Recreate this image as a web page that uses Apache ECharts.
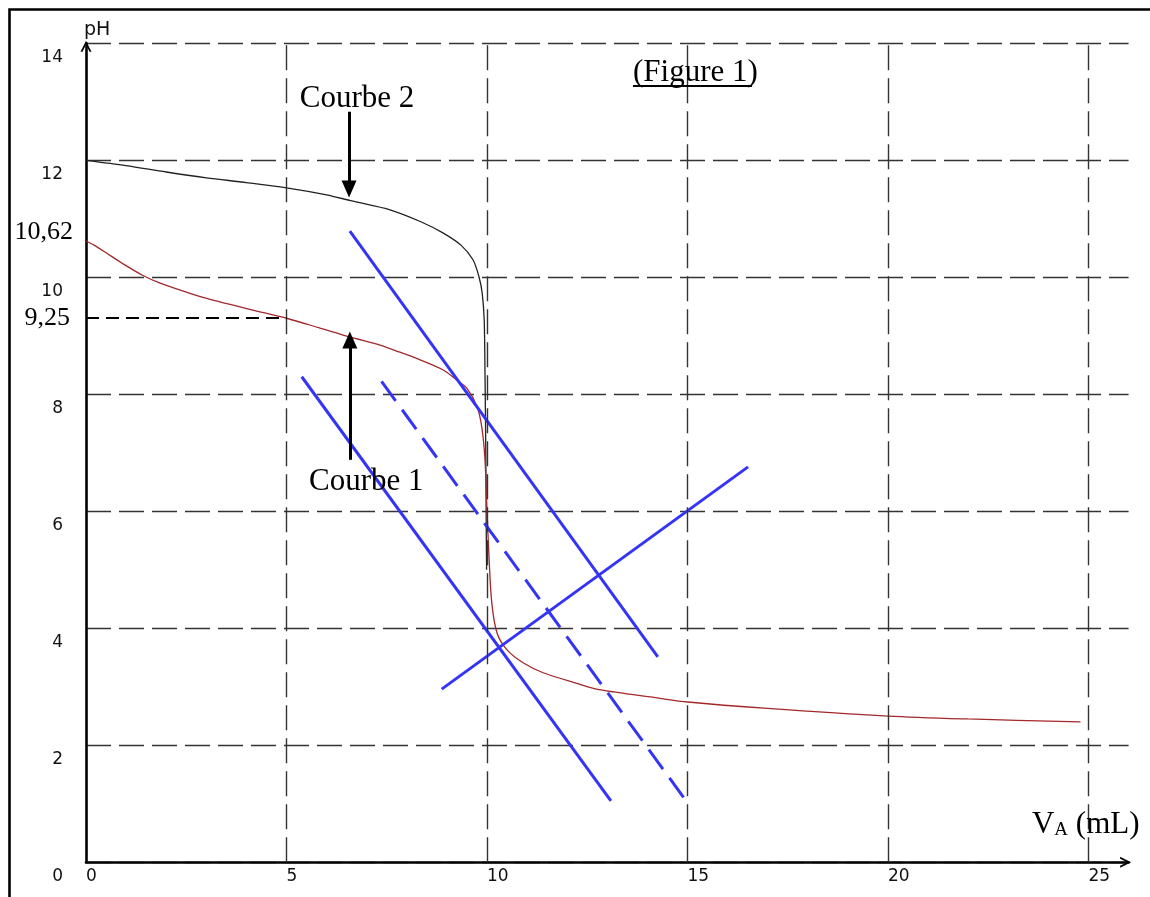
<!DOCTYPE html>
<html>
<head>
<meta charset="utf-8">
<script src="https://cdn.jsdelivr.net/npm/echarts@6/dist/echarts.min.js"></script>
<style>
html,body{margin:0;padding:0;background:#fff;}
#chart{width:1150px;height:897px;}
</style>
</head>
<body>
<div id="chart"></div>
<script>
// ---- data ----
const xTicks = [0, 5, 10, 15, 20, 25];
const yTicks = [0, 2, 4, 6, 8, 10, 12, 14];
const xGridLines = [5, 10, 15, 20, 25];

// Courbe 2 (black)
const curve2X = [0, 1, 2, 3, 4, 5, 6, 6.6, 7.6, 8.35, 8.9, 9.35, 9.65, 9.8, 9.88, 9.93, 9.95, 9.97, 9.98, 9.99];
const curve2Y = [12.0, 11.91, 11.8, 11.7, 11.62, 11.53, 11.41, 11.31, 11.15, 10.95, 10.76, 10.55, 10.3, 10.01, 9.73, 9.27, 8.36, 7.0, 5.8, 5.0];

// Courbe 1 (red)
const curve1X = [0, 0.2, 0.5, 0.9, 1.42, 1.85, 2.67, 3.34, 4.16, 5.0, 5.8, 6.58, 7.33, 7.83, 8.15, 8.9, 9.25, 9.5, 9.75, 9.87, 9.95, 10.0, 10.05, 10.12, 10.25, 10.5, 10.9, 11.4, 12.24, 12.8, 14.24, 15, 17, 20, 22, 24.8];
const curve1Y = [10.62, 10.55, 10.42, 10.24, 10.03, 9.9, 9.71, 9.58, 9.44, 9.3, 9.14, 8.98, 8.84, 8.72, 8.64, 8.42, 8.24, 8.1, 7.79, 7.44, 6.88, 6.02, 5.22, 4.43, 3.92, 3.63, 3.41, 3.24, 3.06, 2.95, 2.81, 2.74, 2.63, 2.5, 2.45, 2.4];

// blue construction lines (endpoints)
const tangentUpper = [[6.58, 10.79], [14.26, 3.51]];
const tangentLower = [[5.38, 8.30], [13.09, 1.05]];
const parallelMid = [[7.37, 8.22], [15.06, 0.96]];
const perpendicular = [[8.87, 2.96], [16.51, 6.76]];

// annotation values
const pHstart = 10.62;
const pHhalf = 9.25;
const halfLineY = 9.3;
const halfLineX = [0, 5];
const arrowCourbe2 = [[6.56, 12.83], [6.56, 11.51]];
const arrowCourbe1 = [[6.58, 6.88], [6.58, 8.93]];
const figUnderline = [[13.64, 13.27], [16.61, 13.27]];

const zip = (xs, ys) => xs.map((x, i) => [x, ys[i]]);

const chart = echarts.init(document.getElementById('chart'), null, {renderer: 'canvas'});

const tickFont = 'DejaVu Sans';
const serif = '"Liberation Serif", "Times New Roman", serif';
const chevron = 'path://M0,10 L5,0 L10,10 L8.2,10 L5,3.6 L1.8,10 Z';
const blue = '#3434f6';

const serifLabel = (text, extra) => Object.assign({
  formatter: text, color: '#000', opacity: 1, textBorderWidth: 0, fontFamily: serif
}, extra || {});

const option = {
  animation: false,
  backgroundColor: '#ffffff',
  grid: {left: 86, top: 43.3, right: 21.4, bottom: 34.7, containLabel: false},
  graphic: [{
    type: 'rect', left: 7, top: 7, silent: true,
    shape: {x: 0, y: 0, width: 1300, height: 1000},
    style: {fill: 'none', stroke: '#000', lineWidth: 2.6}
  }],
  xAxis: {
    type: 'value', min: 0, max: 26, interval: 5,
    axisLine: {show: true, onZero: false, lineStyle: {color: '#000', width: 2.6},
      symbol: ['none', chevron], symbolSize: [15, 11], symbolOffset: [0, -3]},
    axisTick: {show: false},
    splitLine: {show: false},
    axisLabel: {
      color: '#111', fontFamily: tickFont, fontSize: 17, margin: 6, align: 'left',
      formatter: v => (xTicks.indexOf(v) >= 0 ? String(v) : '')
    }
  },
  yAxis: {
    type: 'value', min: 0, max: 14, interval: 2,
    name: 'pH', nameLocation: 'end', nameGap: 4,
    nameTextStyle: {color: '#111', fontFamily: tickFont, fontSize: 19, align: 'left', padding: [0, 0, 0, -2]},
    axisLine: {show: true, onZero: false, lineStyle: {color: '#000', width: 2.6},
      symbol: ['none', chevron], symbolSize: [15, 11], symbolOffset: [0, -3]},
    axisTick: {show: false},
    splitLine: {show: true, lineStyle: {color: '#333', width: 1.4, type: [25, 8]}},
    axisLabel: {
      color: '#111', fontFamily: tickFont, fontSize: 17, margin: 23,
      verticalAlign: 'top', padding: [6, 0, 0, 0],
      formatter: v => (yTicks.indexOf(v) >= 0 ? String(v) : '')
    }
  },
  series: [
    { // vertical grid lines
      type: 'line', data: [], silent: true,
      markLine: {
        silent: true, symbol: ['none', 'none'], label: {show: false},
        lineStyle: {color: '#333', width: 1.4, type: [25, 8]},
        data: xGridLines.map(x => [{coord: [x, 0]}, {coord: [x, 14]}])
      }
    },
    {
      type: 'line', data: [], silent: true,
      markLine: {
        silent: true, symbol: ['none', 'none'], label: {show: false},
        data: [
          [{coord: [halfLineX[0], halfLineY], lineStyle: {color: '#000', width: 2, type: [13, 7]}},
           {coord: [halfLineX[1], halfLineY]}],
          [{coord: figUnderline[0], lineStyle: {color: '#000', width: 2, type: 'solid'}},
           {coord: figUnderline[1]}]
        ]
      }
    },
    {
      type: 'line', data: [], silent: true,
      markLine: {
        silent: true, symbol: ['none', 'triangle'], symbolSize: [15, 17], label: {show: false},
        lineStyle: {color: '#000', width: 3, type: 'solid'},
        itemStyle: {color: '#000'},
        data: [
          [{coord: arrowCourbe2[0]}, {coord: arrowCourbe2[1]}],
          [{coord: arrowCourbe1[0]}, {coord: arrowCourbe1[1]}]
        ]
      }
    },
    {
      name: 'Courbe 2', type: 'line', data: zip(curve2X, curve2Y), showSymbol: false,
      smooth: 0.3, lineStyle: {color: '#222', width: 1.3}
    },
    {
      name: 'Courbe 1', type: 'line', data: zip(curve1X, curve1Y), showSymbol: false,
      smooth: 0.3, lineStyle: {color: '#a3282a', width: 1.3}
    },
    {type: 'line', data: tangentUpper, showSymbol: false, lineStyle: {color: blue, width: 3}},
    {type: 'line', data: tangentLower, showSymbol: false, lineStyle: {color: blue, width: 3}},
    {type: 'line', data: parallelMid, showSymbol: false, lineStyle: {color: blue, width: 3, type: [24, 11]}},
    {type: 'line', data: perpendicular, showSymbol: false, lineStyle: {color: blue, width: 3}},
    { // text annotations
      type: 'scatter', symbolSize: 0, silent: true, z: 10,
      itemStyle: {color: '#000', opacity: 1},
      label: {show: true, position: 'right', distance: 0, color: '#000', fontFamily: serif, fontSize: 31},
      emphasis: {disabled: true},
      data: [
        {value: [5.33, 13.05], label: serifLabel('Courbe 2', {fontSize: 31})},
        {value: [5.56, 6.51], label: serifLabel('Courbe 1', {fontSize: 31})},
        {value: [13.64, 13.5], label: serifLabel('(Figure 1)', {fontSize: 31})},
        {value: [0, pHstart], label: serifLabel('10,62', {position: 'left', distance: 13, fontSize: 26, offset: [0, -9]})},
        {value: [0, pHhalf], label: serifLabel('9,25', {position: 'left', distance: 16, fontSize: 26, offset: [0, -3]})},
        {value: [23.59, 0.64], label: {
          formatter: '{v|V}{a|A}{v| (mL)}', color: '#000',
          rich: {
            v: {fontFamily: serif, fontSize: 31, color: '#000'},
            a: {fontFamily: serif, fontSize: 19, color: '#000', verticalAlign: 'bottom', padding: [0, 0, 1, 0]}
          }
        }}
      ]
    }
  ]
};
chart.setOption(option);
</script>
</body>
</html>
